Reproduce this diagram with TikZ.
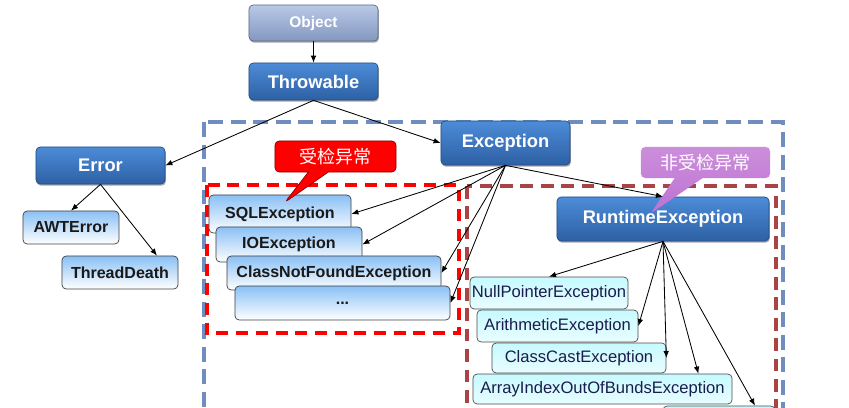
\documentclass[tikz,border=0pt]{standalone}
\usepackage{fontspec}
\setsansfont{Liberation Sans}
\newfontfamily\cjk{Noto Sans CJK SC}
\usetikzlibrary{shapes.callouts,shadows,arrows.meta}
\definecolor{topblue}{HTML}{4C8CD8}
\definecolor{botblue}{HTML}{2E60A4}
\definecolor{topgray}{HTML}{B8C9E8}
\definecolor{botgray}{HTML}{8497BE}
\definecolor{lightblue}{HTML}{8AC0F5}
\definecolor{lightcyan}{HTML}{C6FAFF}
\definecolor{outerdash}{HTML}{6F8DBF}
\definecolor{innerdash}{HTML}{AA4444}
\definecolor{checkred}{HTML}{FF0000}
\definecolor{uncheckpurple}{HTML}{BE72D2}
\definecolor{rttext}{HTML}{1C1C4C}
\tikzset{
  classbox/.style={rounded corners=3pt, inner sep=0pt, line width=0.5pt},
  shadowed/.style={drop shadow={shadow xshift=0.6pt, shadow yshift=-1.2pt, opacity=0.35, fill=black}},
  rootbox/.style={classbox, shadowed, top color=topgray, bottom color=botgray, draw=botgray!70!black,
                  text=white, font=\sffamily\bfseries\fontsize{11}{13}\selectfont},
  topbox/.style={classbox, shadowed, top color=topblue, bottom color=botblue, draw=botblue!80!black,
                 text=white, font=\sffamily\bfseries\fontsize{13}{15}\selectfont},
  subbox/.style={classbox, top color=lightblue, bottom color=white, draw=black!75,
                 text=black!90, font=\sffamily\bfseries\fontsize{11.4}{13}\selectfont},
  rtbox/.style={classbox, top color=lightcyan, bottom color=lightcyan!40, draw=black!70,
                text=rttext, font=\sffamily\fontsize{11.8}{13}\selectfont},
  arr/.style={-{Latex[length=5pt,width=4pt]}, line width=0.6pt},
  outerframe/.style={draw=outerdash, line width=2.8pt, dash pattern=on 10.5pt off 5.5pt},
  checkframe/.style={draw=checkred, line width=2.8pt, dash pattern=on 8.5pt off 5.5pt},
  uncheckframe/.style={draw=innerdash, line width=2.8pt, dash pattern=on 9pt off 5.5pt},
  checknote/.style={rectangle callout, rounded corners=3pt, fill=checkred, draw=red!55!black,
                    line width=0.5pt, text=white, inner sep=0pt, callout pointer width=0.5cm,
                    font=\cjk\fontsize{12.8}{14}\selectfont},
  unchecknote/.style={rectangle callout, rounded corners=3pt, top color=uncheckpurple!80!white,
                      bottom color=uncheckpurple, text=white, inner sep=0pt, callout pointer width=0.7cm,
                      font=\cjk\fontsize{12.8}{14}\selectfont},
}
\begin{document}
\begin{tikzpicture}[x=0.025cm, y=-0.025cm]
  \useasboundingbox (0,0) rectangle (849,408);
  % dashed groups
  \draw[outerframe] (204,122) rectangle (783,430);
  \draw[checkframe] (207,185) rectangle (459,333);
  \draw[uncheckframe] (467,186) rectangle (776,430);

  % top of the hierarchy
  \node[rootbox, minimum width=3.225cm, minimum height=0.9cm] (obj) at (313.5,23) {Object};
  \node[topbox, minimum width=3.225cm, minimum height=0.925cm] (thr) at (313.5,81.5) {Throwable};
  \node[topbox, minimum width=3.225cm, minimum height=0.925cm] (err) at (100.5,165.5) {Error};
  \node[topbox, minimum width=3.225cm, minimum height=1.1cm] (exc) at (505.5,143) {Exception};
  \node[topbox, minimum width=5.3cm, minimum height=1.1cm] (rte) at (663,219) {RuntimeException};

  % errors
  \node[subbox, minimum width=2.4cm, minimum height=0.825cm] (awt) at (71,227.5) {AWTError};
  \node[subbox, minimum width=2.9cm, minimum height=0.825cm] (td) at (120,272.5) {ThreadDeath};

  % checked exceptions
  \node[subbox, minimum width=3.55cm, minimum height=0.95cm] (sql) at (280,214) {SQLException};
  \node[subbox, minimum width=3.65cm, minimum height=0.875cm] (io) at (289,244.5) {IOException};
  \node[subbox, minimum width=5.35cm, minimum height=0.85cm] (cnf) at (334,273) {ClassNotFoundException};
  \node[subbox, minimum width=5.375cm, minimum height=0.85cm] (dots) at (342.5,303) {...};

  % unchecked exceptions
  \node[rtbox, minimum width=3.95cm, minimum height=0.8cm] (npe) at (549,293) {NullPointerException};
  \node[rtbox, minimum width=4.025cm, minimum height=0.8cm] (ari) at (557.5,326) {ArithmeticException};
  \node[rtbox, minimum width=4.35cm, minimum height=0.75cm] (cce) at (579,358) {ClassCastException};
  \node[rtbox, minimum width=6.475cm, minimum height=0.75cm] (aio) at (602.5,389) {ArrayIndexOutOfBundsException};
  \node[rtbox, minimum width=2.8cm, minimum height=0.75cm] (more) at (719,421) {};

  % callouts
  \node[checknote, minimum width=3.025cm, minimum height=0.775cm,
        callout relative pointer={(-0.84cm,-0.76cm)}] (chk) at (335.5,156.5) {受检异常};
  \node[unchecknote, minimum width=3.225cm, minimum height=0.775cm,
        callout relative pointer={(-0.96cm,-0.89cm)}] (unchk) at (705.5,162.5) {非受检异常};

  % inheritance
  \draw[arr] (obj) -- (thr);
  \draw[arr] (thr.south) -- (err.east);
  \draw[arr] (thr.south) -- (exc.west);
  \draw[arr] (err.south) -- (awt.north);
  \draw[arr] (err.south) -- ([xshift=0.925cm]td.north);
  \draw[arr] (exc.south) -- (sql.east);
  \draw[arr] (exc.south) -- (io.east);
  \draw[arr] (exc.south) -- (cnf.east);
  \draw[arr] (exc.south) -- (dots.east);
  \draw[arr] (exc.south) -- (rte.north);
  \draw[arr] (rte.south) -- (npe.north);
  \draw[arr] (rte.south) -- (ari.east);
  \draw[arr] (rte.south) -- (cce.east);
  \draw[arr] (rte.south) -- ([xshift=-0.85cm]aio.north east);
  \draw[arr] (rte.south) -- ([xshift=0.9cm]more.north);
\end{tikzpicture}
\end{document}
